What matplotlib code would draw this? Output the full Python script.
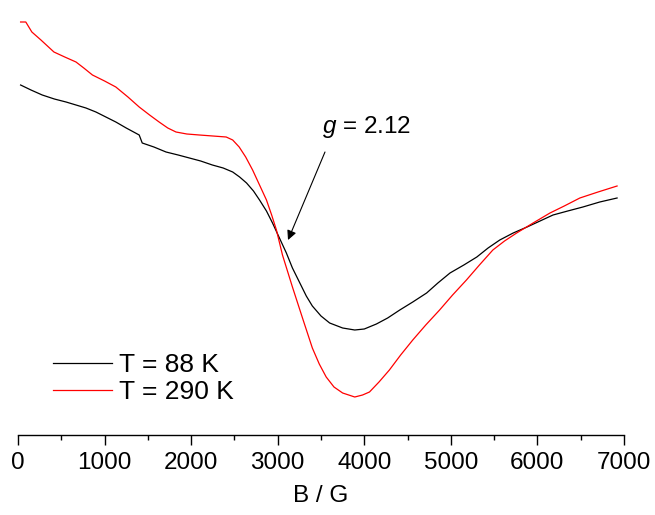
import numpy as np
import matplotlib
matplotlib.use("Agg")
import matplotlib.pyplot as plt

plt.rcParams['font.family'] = ['Liberation Sans', 'DejaVu Sans']
plt.rcParams['mathtext.fontset'] = 'custom'
plt.rcParams['mathtext.rm'] = 'Liberation Sans'
plt.rcParams['mathtext.it'] = 'Liberation Sans:italic'

# EPR spectra, intensity in arbitrary units
b_88 = [30, 150, 280, 420, 555, 670, 785, 900, 1015, 1130, 1250, 1400, 1435, 1570,
        1710, 1850, 1980, 2110, 2245, 2370, 2480, 2560, 2640, 2720, 2790, 2870,
        2940, 3020, 3100, 3170, 3250, 3330, 3400, 3500, 3600, 3750, 3890, 4000,
        4140, 4270, 4410, 4560, 4720, 4850, 4990, 5150, 5300, 5430, 5565, 5720,
        5880, 6030, 6180, 6350, 6525, 6720, 6920]
i_88 = [350, 345, 340, 336, 333, 330, 327, 323, 318, 313, 307, 300, 292, 288,
        283, 280, 277, 274, 270, 267, 263, 258, 252, 244, 235, 224,
        212, 197, 182, 167, 153, 139, 129, 119, 112, 107, 105, 106,
        111, 117, 125, 133, 142, 152, 162, 170, 178, 187, 195, 202,
        208, 214, 220, 224, 228, 233, 237]

b_290 = [30, 90, 160, 265, 415, 540, 670, 760, 860, 1000, 1130, 1270, 1400, 1520,
         1630, 1730, 1825, 1950, 2095, 2250, 2405, 2480, 2555, 2630, 2710, 2790,
         2870, 2930, 2985, 3055, 3170, 3290, 3400, 3480, 3560, 3650, 3750, 3890,
         3980, 4060, 4170, 4290, 4420, 4560, 4710, 4870, 5020, 5180, 5330, 5485,
         5620, 5760, 5950, 6145, 6310, 6490, 6700, 6920]
i_290 = [413, 413, 403, 395, 383, 378, 373, 367, 360, 354, 348, 338, 328, 320,
         313, 307, 303, 301, 300, 299, 298, 295, 288, 278, 265, 250,
         235, 220, 205, 180, 148, 116, 87, 71, 58, 48, 42, 38,
         40, 43, 53, 65, 80, 95, 110, 125, 140, 155, 170, 185,
         194, 202, 212, 222, 229, 237, 243, 249]

labels = ["T = 88 K", "T = 290 K"]
g_label = "$g$ = 2.12"
g_field = 3119
g_intensity = 195

fig = plt.figure(figsize=(6.55, 5.15), dpi=100)
ax = fig.add_axes([18/655, 80/515, 606/655, 430/515])

ax.plot(b_88, i_88, color='black', lw=0.9, label=labels[0])
ax.plot(b_290, i_290, color='red', lw=0.9, label=labels[1])

ax.set_xlim(0, 7000)
ax.set_ylim(0, 430)
for s in ['left', 'right', 'top']:
    ax.spines[s].set_visible(False)
ax.spines['bottom'].set_linewidth(1.0)
ax.set_yticks([])
ax.set_xticks(np.arange(0, 7001, 1000))
ax.set_xticks(np.arange(500, 7000, 1000), minor=True)
ax.tick_params(axis='x', which='major', direction='out', length=7, width=1.0,
               labelsize=17.5, pad=5)
ax.tick_params(axis='x', which='minor', direction='out', length=3.6, width=1.0)
ax.set_xlabel("B / G", fontsize=17.5, labelpad=8)

ax.text(3511, 302, g_label, fontsize=17.5, va='baseline', ha='left')
ax.annotate("", xy=(g_field, g_intensity), xytext=(3546, 283),
            arrowprops=dict(arrowstyle='-|>', lw=0.8, color='black',
                            mutation_scale=14, shrinkA=0, shrinkB=0))

ax.legend(loc='lower left', bbox_to_anchor=(53/655, (515-404)/515),
          bbox_transform=fig.transFigure, frameon=False, fontsize=19,
          handlelength=2.25, handletextpad=0.25, labelspacing=0.1,
          borderpad=0, borderaxespad=0)

fig.savefig("out.png", dpi=100)
